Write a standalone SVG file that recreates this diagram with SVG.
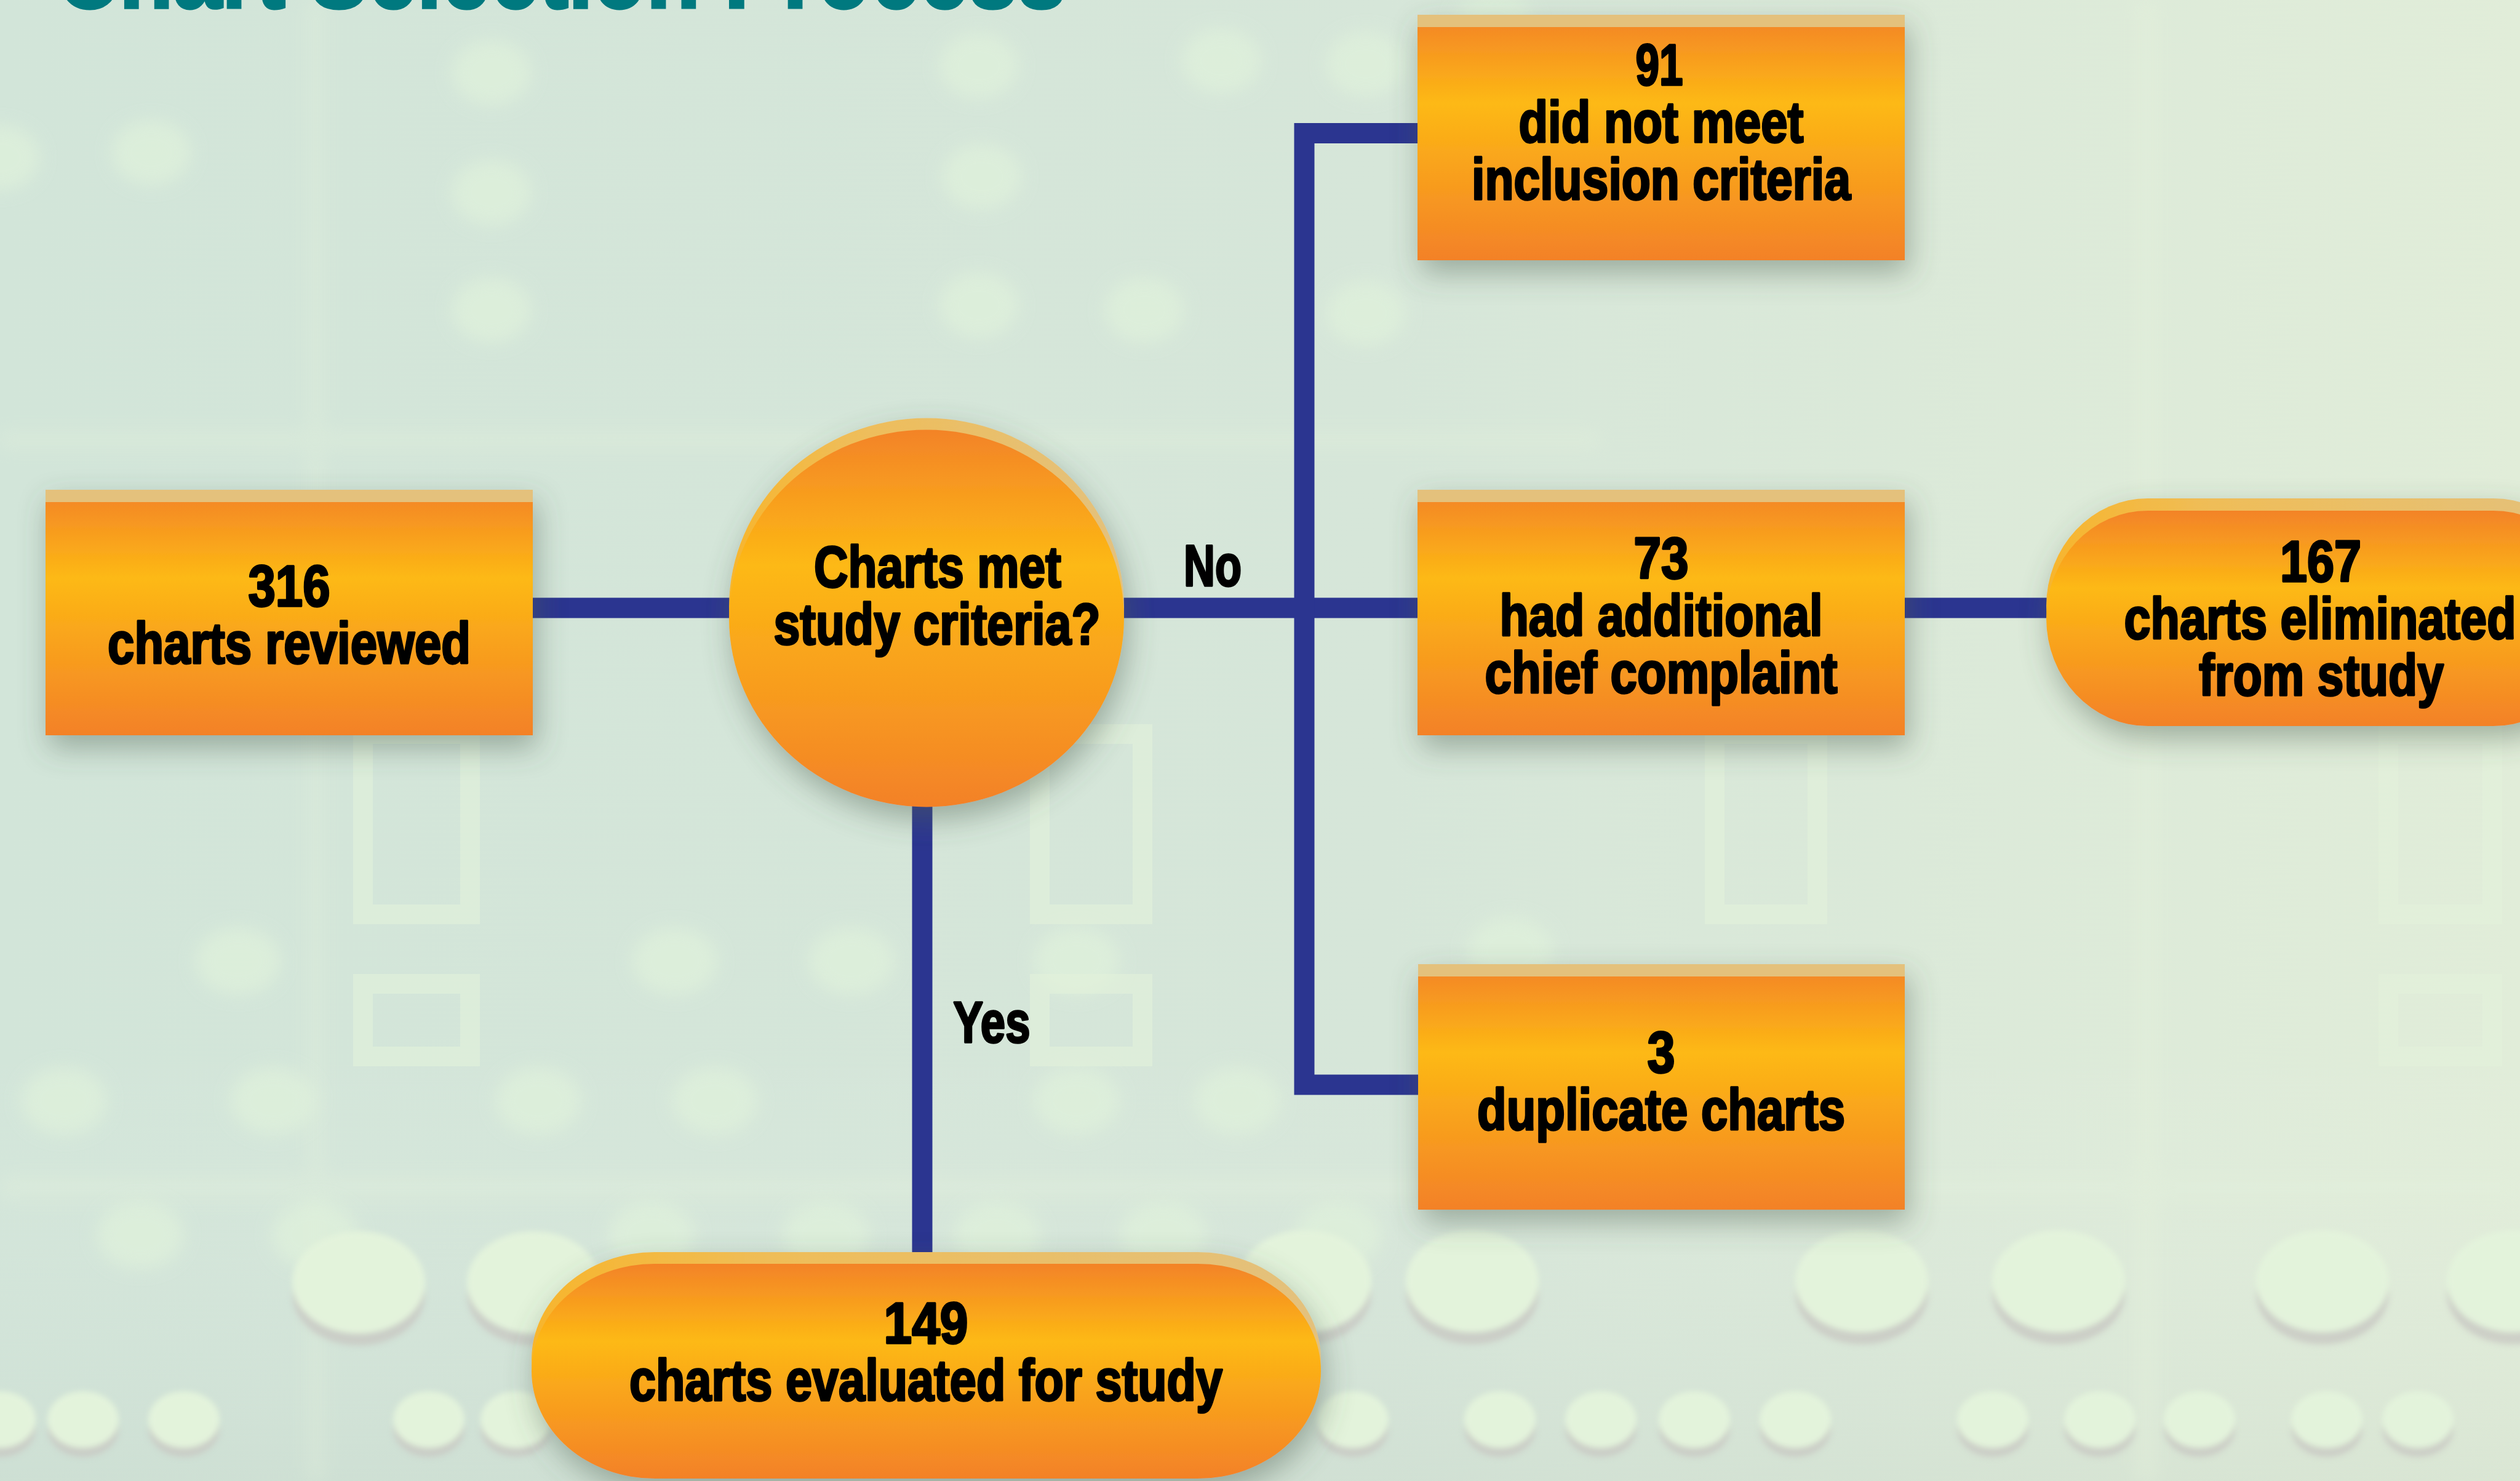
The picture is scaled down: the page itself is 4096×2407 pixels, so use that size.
<svg xmlns="http://www.w3.org/2000/svg" width="4096" height="2407" viewBox="0 0 4096 2407">
<defs>
<style>
.lbl{font-family:"Liberation Sans",Arial,Helvetica,sans-serif;font-weight:700;font-size:94px;fill:#000;stroke:#000;stroke-width:3.5;stroke-linejoin:round;text-anchor:middle}
.title{font-family:"Liberation Sans",Arial,Helvetica,sans-serif;font-weight:700;font-size:172px;fill:#00797F;stroke:#00797F;stroke-width:5}
.conn{fill:none;stroke:#2B3590;stroke-width:33;stroke-linejoin:miter;stroke-linecap:butt}
.box{fill:url(#og)}
.band{fill:#E4C17B}
.rim{fill:url(#rimg)}
.dot{fill:#E0F2DB}
.dotb{fill:#E3F3DB}
.dsh{fill:#C9C9C3}
.frame{fill:none;stroke:#E2F1DB;stroke-width:32;opacity:.6}
</style>
<linearGradient id="bg" x1="0" y1="0" x2="1" y2="0">
<stop offset="0" stop-color="#D2E5D9"/>
<stop offset="0.55" stop-color="#D6E6D9"/>
<stop offset="1" stop-color="#E1EDD9"/>
</linearGradient>
<linearGradient id="bgv" x1="0" y1="0" x2="0" y2="1">
<stop offset="0" stop-color="#FFFFFF" stop-opacity="0"/>
<stop offset="0.7" stop-color="#FFFFFF" stop-opacity="0"/>
<stop offset="1" stop-color="#B9C6BC" stop-opacity="0.18"/>
</linearGradient>
<linearGradient id="og" x1="0" y1="0" x2="0" y2="1">
<stop offset="0" stop-color="#F38328"/>
<stop offset="0.36" stop-color="#FDB914"/>
<stop offset="1" stop-color="#F38128"/>
</linearGradient>
<linearGradient id="rimg" x1="0" y1="0" x2="1" y2="0">
<stop offset="0" stop-color="#F7B52C"/>
<stop offset="0.3" stop-color="#EFBD58"/>
<stop offset="1" stop-color="#E3C17D"/>
</linearGradient>
<filter id="sh" x="-20%" y="-20%" width="150%" height="160%">
<feDropShadow dx="6" dy="20" stdDeviation="24" flood-color="#4E6152" flood-opacity="0.45"/>
</filter>
<filter id="blur" x="-50%" y="-50%" width="200%" height="200%">
<feGaussianBlur stdDeviation="14"/>
</filter>
<filter id="blur2" x="-50%" y="-50%" width="200%" height="200%">
<feGaussianBlur stdDeviation="5"/>
</filter>
</defs>

<g id="background">
<rect x="0" y="0" width="4096" height="2407" fill="url(#bg)"/>
<rect x="0" y="0" width="4096" height="2407" fill="url(#bgv)"/>
<g opacity="0.35" filter="url(#blur)">
<rect x="0" y="1910" width="4096" height="40" fill="#E3F1DC"/>
<rect x="0" y="700" width="2600" height="30" fill="#E3F1DC"/>
<rect x="3470" y="0" width="36" height="2407" fill="#E6F3DC"/>
<rect x="500" y="0" width="26" height="2407" fill="#E3F1DC"/>
</g>
<g opacity="0.7" filter="url(#blur)">
<ellipse class="dot" cx="799" cy="118" rx="65" ry="53"/>
<ellipse class="dot" cx="799" cy="313" rx="65" ry="53"/>
<ellipse class="dot" cx="799" cy="504" rx="65" ry="53"/>
<ellipse class="dot" cx="1591" cy="107" rx="65" ry="53"/>
<ellipse class="dot" cx="1596" cy="287" rx="65" ry="53"/>
<ellipse class="dot" cx="1591" cy="496" rx="65" ry="53"/>
<ellipse class="dot" cx="1860" cy="504" rx="65" ry="53"/>
<ellipse class="dot" cx="1985" cy="99" rx="65" ry="53"/>
<ellipse class="dot" cx="246" cy="248" rx="65" ry="53"/>
<ellipse class="dot" cx="0" cy="256" rx="65" ry="53"/>
<ellipse class="dot" cx="2220" cy="104" rx="65" ry="53"/>
<ellipse class="dot" cx="2220" cy="509" rx="65" ry="53"/>
<ellipse class="dot" cx="2429" cy="39" rx="65" ry="53"/>
<ellipse class="dot" cx="387" cy="1562" rx="70" ry="55"/>
<ellipse class="dot" cx="1097" cy="1562" rx="70" ry="55"/>
<ellipse class="dot" cx="1384" cy="1562" rx="70" ry="55"/>
<ellipse class="dot" cx="1750" cy="1562" rx="70" ry="55"/>
<ellipse class="dot" cx="2455" cy="1545" rx="70" ry="55"/>
<ellipse class="dot" cx="104" cy="1789" rx="70" ry="55"/>
<ellipse class="dot" cx="444" cy="1789" rx="70" ry="55"/>
<ellipse class="dot" cx="875" cy="1789" rx="70" ry="55"/>
<ellipse class="dot" cx="1162" cy="1789" rx="70" ry="55"/>
<ellipse class="dot" cx="1750" cy="1789" rx="70" ry="55"/>
<ellipse class="dot" cx="2011" cy="1789" rx="70" ry="55"/>
<ellipse class="dot" cx="228" cy="2007" rx="71" ry="55"/>
<ellipse class="dot" cx="512" cy="2007" rx="71" ry="55"/>
<ellipse class="dot" cx="1059" cy="2007" rx="71" ry="55"/>
<ellipse class="dot" cx="1343" cy="2007" rx="71" ry="55"/>
<ellipse class="dot" cx="1621" cy="2007" rx="71" ry="55"/>
<ellipse class="dot" cx="1891" cy="2007" rx="71" ry="55"/>
<ellipse class="dot" cx="2175" cy="2007" rx="71" ry="55"/>
</g>
<g>
<rect class="frame" x="590" y="1193" width="174" height="293"/>
<rect class="frame" x="1690" y="1193" width="167" height="293"/>
<rect class="frame" x="2787" y="1193" width="167" height="293"/>
<rect class="frame" x="3882" y="1193" width="169" height="293"/>
<rect class="frame" x="590" y="1599" width="174" height="118"/>
<rect class="frame" x="1690" y="1599" width="167" height="118"/>
<rect class="frame" x="2787" y="1599" width="167" height="118"/>
<rect class="frame" x="3882" y="1599" width="169" height="118"/>
</g>
<g filter="url(#blur2)">
<g opacity="0.8">
<ellipse class="dsh" cx="583" cy="2104" rx="108" ry="83"/>
<ellipse class="dsh" cx="867" cy="2104" rx="108" ry="83"/>
<ellipse class="dsh" cx="2121" cy="2102" rx="108" ry="83"/>
<ellipse class="dsh" cx="2393" cy="2102" rx="108" ry="83"/>
<ellipse class="dsh" cx="3026" cy="2102" rx="108" ry="83"/>
<ellipse class="dsh" cx="3346" cy="2102" rx="108" ry="83"/>
<ellipse class="dsh" cx="3775" cy="2102" rx="108" ry="83"/>
<ellipse class="dsh" cx="4085" cy="2102" rx="108" ry="83"/>
</g>
<ellipse class="dotb" cx="583" cy="2084" rx="108" ry="83"/>
<ellipse class="dotb" cx="867" cy="2084" rx="108" ry="83"/>
<ellipse class="dotb" cx="2121" cy="2082" rx="108" ry="83"/>
<ellipse class="dotb" cx="2393" cy="2082" rx="108" ry="83"/>
<ellipse class="dotb" cx="3026" cy="2082" rx="108" ry="83"/>
<ellipse class="dotb" cx="3346" cy="2082" rx="108" ry="83"/>
<ellipse class="dotb" cx="3775" cy="2082" rx="108" ry="83"/>
<ellipse class="dotb" cx="4085" cy="2082" rx="108" ry="83"/>
<g opacity="0.8">
<ellipse class="dsh" cx="0" cy="2322" rx="58" ry="46"/>
<ellipse class="dsh" cx="135" cy="2322" rx="58" ry="46"/>
<ellipse class="dsh" cx="299" cy="2322" rx="58" ry="46"/>
<ellipse class="dsh" cx="697" cy="2322" rx="58" ry="46"/>
<ellipse class="dsh" cx="839" cy="2322" rx="58" ry="46"/>
<ellipse class="dsh" cx="2199" cy="2322" rx="58" ry="46"/>
<ellipse class="dsh" cx="2438" cy="2322" rx="58" ry="46"/>
<ellipse class="dsh" cx="2602" cy="2322" rx="58" ry="46"/>
<ellipse class="dsh" cx="2754" cy="2322" rx="58" ry="46"/>
<ellipse class="dsh" cx="2918" cy="2322" rx="58" ry="46"/>
<ellipse class="dsh" cx="3239" cy="2322" rx="58" ry="46"/>
<ellipse class="dsh" cx="3413" cy="2322" rx="58" ry="46"/>
<ellipse class="dsh" cx="3575" cy="2322" rx="58" ry="46"/>
<ellipse class="dsh" cx="3782" cy="2322" rx="58" ry="46"/>
<ellipse class="dsh" cx="3930" cy="2322" rx="58" ry="46"/>
</g>
<ellipse class="dotb" cx="0" cy="2307" rx="58" ry="46"/>
<ellipse class="dotb" cx="135" cy="2307" rx="58" ry="46"/>
<ellipse class="dotb" cx="299" cy="2307" rx="58" ry="46"/>
<ellipse class="dotb" cx="697" cy="2307" rx="58" ry="46"/>
<ellipse class="dotb" cx="839" cy="2307" rx="58" ry="46"/>
<ellipse class="dotb" cx="2199" cy="2307" rx="58" ry="46"/>
<ellipse class="dotb" cx="2438" cy="2307" rx="58" ry="46"/>
<ellipse class="dotb" cx="2602" cy="2307" rx="58" ry="46"/>
<ellipse class="dotb" cx="2754" cy="2307" rx="58" ry="46"/>
<ellipse class="dotb" cx="2918" cy="2307" rx="58" ry="46"/>
<ellipse class="dotb" cx="3239" cy="2307" rx="58" ry="46"/>
<ellipse class="dotb" cx="3413" cy="2307" rx="58" ry="46"/>
<ellipse class="dotb" cx="3575" cy="2307" rx="58" ry="46"/>
<ellipse class="dotb" cx="3782" cy="2307" rx="58" ry="46"/>
<ellipse class="dotb" cx="3930" cy="2307" rx="58" ry="46"/>
</g>
</g>

<text id="title" class="title" x="91" y="12" textLength="1642" lengthAdjust="spacingAndGlyphs">Chart Selection Process</text>

<g id="connectors">
<line class="conn" x1="866" y1="988" x2="1190" y2="988"/>
<line class="conn" x1="1822" y1="988" x2="2304" y2="988"/>
<path class="conn" d="M2304 216.5 H2120 V1763 H2305"/>
<line class="conn" x1="3096" y1="988" x2="3330" y2="988"/>
<line class="conn" x1="1499" y1="1305" x2="1499" y2="2040"/>
</g>

<g id="node-316" filter="url(#sh)">
<rect class="box" x="74" y="796" width="792" height="399"/>
<rect class="band" x="74" y="796" width="792" height="20"/>
<text class="lbl" x="470" y="985" textLength="133" lengthAdjust="spacingAndGlyphs">316</text>
<text class="lbl" x="470" y="1078" textLength="590" lengthAdjust="spacingAndGlyphs">charts reviewed</text>
</g>

<g id="node-decision">
<g filter="url(#sh)">
<ellipse class="rim" cx="1506" cy="986" rx="321" ry="306.5"/>
<ellipse class="box" cx="1506" cy="1005" rx="321" ry="306.5"/>
</g>
<text class="lbl" x="1524" y="954" textLength="402" lengthAdjust="spacingAndGlyphs">Charts met</text>
<text class="lbl" x="1523" y="1047" textLength="531" lengthAdjust="spacingAndGlyphs">study criteria?</text>
</g>

<g id="node-91" filter="url(#sh)">
<rect class="box" x="2304" y="24" width="792" height="399"/>
<rect class="band" x="2304" y="24" width="792" height="20"/>
<text class="lbl" x="2697" y="138" textLength="77" lengthAdjust="spacingAndGlyphs">91</text>
<text class="lbl" x="2700" y="231" textLength="463" lengthAdjust="spacingAndGlyphs">did not meet</text>
<text class="lbl" x="2700" y="324" textLength="616" lengthAdjust="spacingAndGlyphs">inclusion criteria</text>
</g>

<g id="node-73" filter="url(#sh)">
<rect class="box" x="2304" y="796" width="792" height="399"/>
<rect class="band" x="2304" y="796" width="792" height="20"/>
<text class="lbl" x="2700" y="940" textLength="89" lengthAdjust="spacingAndGlyphs">73</text>
<text class="lbl" x="2700" y="1033" textLength="525" lengthAdjust="spacingAndGlyphs">had additional</text>
<text class="lbl" x="2700" y="1126" textLength="573" lengthAdjust="spacingAndGlyphs">chief complaint</text>
</g>

<g id="node-3" filter="url(#sh)">
<rect class="box" x="2305" y="1567" width="791" height="399"/>
<rect class="band" x="2305" y="1567" width="791" height="20"/>
<text class="lbl" x="2700" y="1743" textLength="45" lengthAdjust="spacingAndGlyphs">3</text>
<text class="lbl" x="2700" y="1836" textLength="598" lengthAdjust="spacingAndGlyphs">duplicate charts</text>
</g>

<g id="node-167">
<g filter="url(#sh)">
<rect class="rim" x="3326" y="810" width="892" height="350" rx="165" ry="175"/>
<rect class="box" x="3326" y="830" width="892" height="350" rx="165" ry="175"/>
</g>
<text class="lbl" x="3772" y="945" textLength="132" lengthAdjust="spacingAndGlyphs">167</text>
<text class="lbl" x="3771" y="1038" textLength="637" lengthAdjust="spacingAndGlyphs">charts eliminated</text>
<text class="lbl" x="3773" y="1130" textLength="398" lengthAdjust="spacingAndGlyphs">from study</text>
</g>

<g id="node-149">
<g filter="url(#sh)">
<rect class="rim" x="864" y="2035" width="1283" height="349" rx="200" ry="174.5"/>
<rect class="box" x="864" y="2054" width="1283" height="349" rx="200" ry="174.5"/>
</g>
<text class="lbl" x="1505" y="2183" textLength="137" lengthAdjust="spacingAndGlyphs">149</text>
<text class="lbl" x="1505" y="2276" textLength="964" lengthAdjust="spacingAndGlyphs">charts evaluated for study</text>
</g>

<g id="edge-labels">
<text class="lbl" x="1971" y="952" textLength="94" lengthAdjust="spacingAndGlyphs">No</text>
<text class="lbl" x="1612" y="1694" textLength="125" lengthAdjust="spacingAndGlyphs">Yes</text>
</g>
</svg>
